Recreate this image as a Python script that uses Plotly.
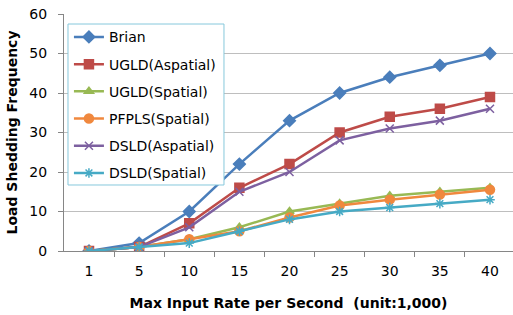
import plotly.graph_objects as go

categories = ["1", "5", "10", "15", "20", "25", "30", "35", "40"]
series_names = ["Brian", "UGLD(Aspatial)", "UGLD(Spatial)", "PFPLS(Spatial)", "DSLD(Aspatial)", "DSLD(Spatial)"]
brian = [0, 2, 10, 22, 33, 40, 44, 47, 50]
ugld_aspatial = [0, 1, 7, 16, 22, 30, 34, 36, 39]
ugld_spatial = [0, 1, 3, 6, 10, 12, 14, 15, 16]
pfpls_spatial = [0, 1, 3, 5, 8.5, 11.5, 13, 14.3, 15.5]
dsld_aspatial = [0, 1, 6, 15, 20, 28, 31, 33, 36]
dsld_spatial = [0, 1, 2, 5, 8, 10, 11, 12, 13]
y_ticks = [0, 10, 20, 30, 40, 50, 60]

values = [brian, ugld_aspatial, ugld_spatial, pfpls_spatial, dsld_aspatial, dsld_spatial]
colors = ["#4A7EBB", "#BE4B48", "#98B954", "#F0883E", "#7D60A0", "#46AAC5"]
symbols = ["diamond", "square", "triangle-up", "circle", "x-thin-open", "asterisk-open"]
sizes = [9, 9, 8, 9, 8, 8]

fig = go.Figure()
for i, (name, vals) in enumerate(zip(series_names, values)):
    fig.add_trace(go.Scatter(
        x=categories, y=vals, name=name, mode="lines+markers",
        legendgroup=name,
        line=dict(color=colors[i], width=2.5),
        marker=dict(symbol=symbols[i], size=sizes[i], color=colors[i],
                    line=dict(color=colors[i], width=1.5)),
    ))

# legend frame drawn as a shape so that its padding can match the original
fig.add_shape(type="rect", xref="paper", yref="paper",
              x0=0.0089, x1=0.3563, y0=0.2785, y1=0.9578,
              line=dict(color="#86C8DC", width=1), fillcolor="white", layer="above")

fig.update_layout(
    width=513, height=315,
    margin=dict(l=64, r=0, t=14, b=64),
    paper_bgcolor="white", plot_bgcolor="white",
    font=dict(family="DejaVu Sans", size=13, color="#000000"),
    showlegend=True,
    legend=dict(
        x=0.011, y=0.969, xanchor="left", yanchor="top",
        bgcolor="rgba(0,0,0,0)", borderwidth=0,
        font=dict(family="DejaVu Sans", size=14),
        traceorder="grouped", tracegroupgap=6,
        itemwidth=30,
    ),
    xaxis=dict(
        type="category", categoryorder="array", categoryarray=categories,
        range=[-0.499, 8.459],
        showgrid=False, showline=True, linecolor="#868686", linewidth=1,
        ticks="outside", tickson="boundaries", ticklen=5, tickcolor="#868686",
        tickfont=dict(size=14), automargin=False, ticklabelstandoff=7,
        title=dict(text="<b>Max Input Rate per Second  (unit:1,000)</b>",
                   font=dict(size=14), standoff=20),
    ),
    yaxis=dict(
        range=[0, 60], tickvals=y_ticks,
        showgrid=True, gridcolor="#BEBEBE", gridwidth=1,
        showline=True, linecolor="#868686", linewidth=1,
        ticks="outside", ticklen=5, tickcolor="#868686",
        tickfont=dict(size=14), zeroline=False, automargin=False,
        ticklabelstandoff=8,
        title=dict(text="<b>Load Shedding Frequency</b>", font=dict(size=14), standoff=8),
    ),
)

fig.write_html("out.html", config={"displayModeBar": False},
               post_script="document.body.style.margin='0';")
